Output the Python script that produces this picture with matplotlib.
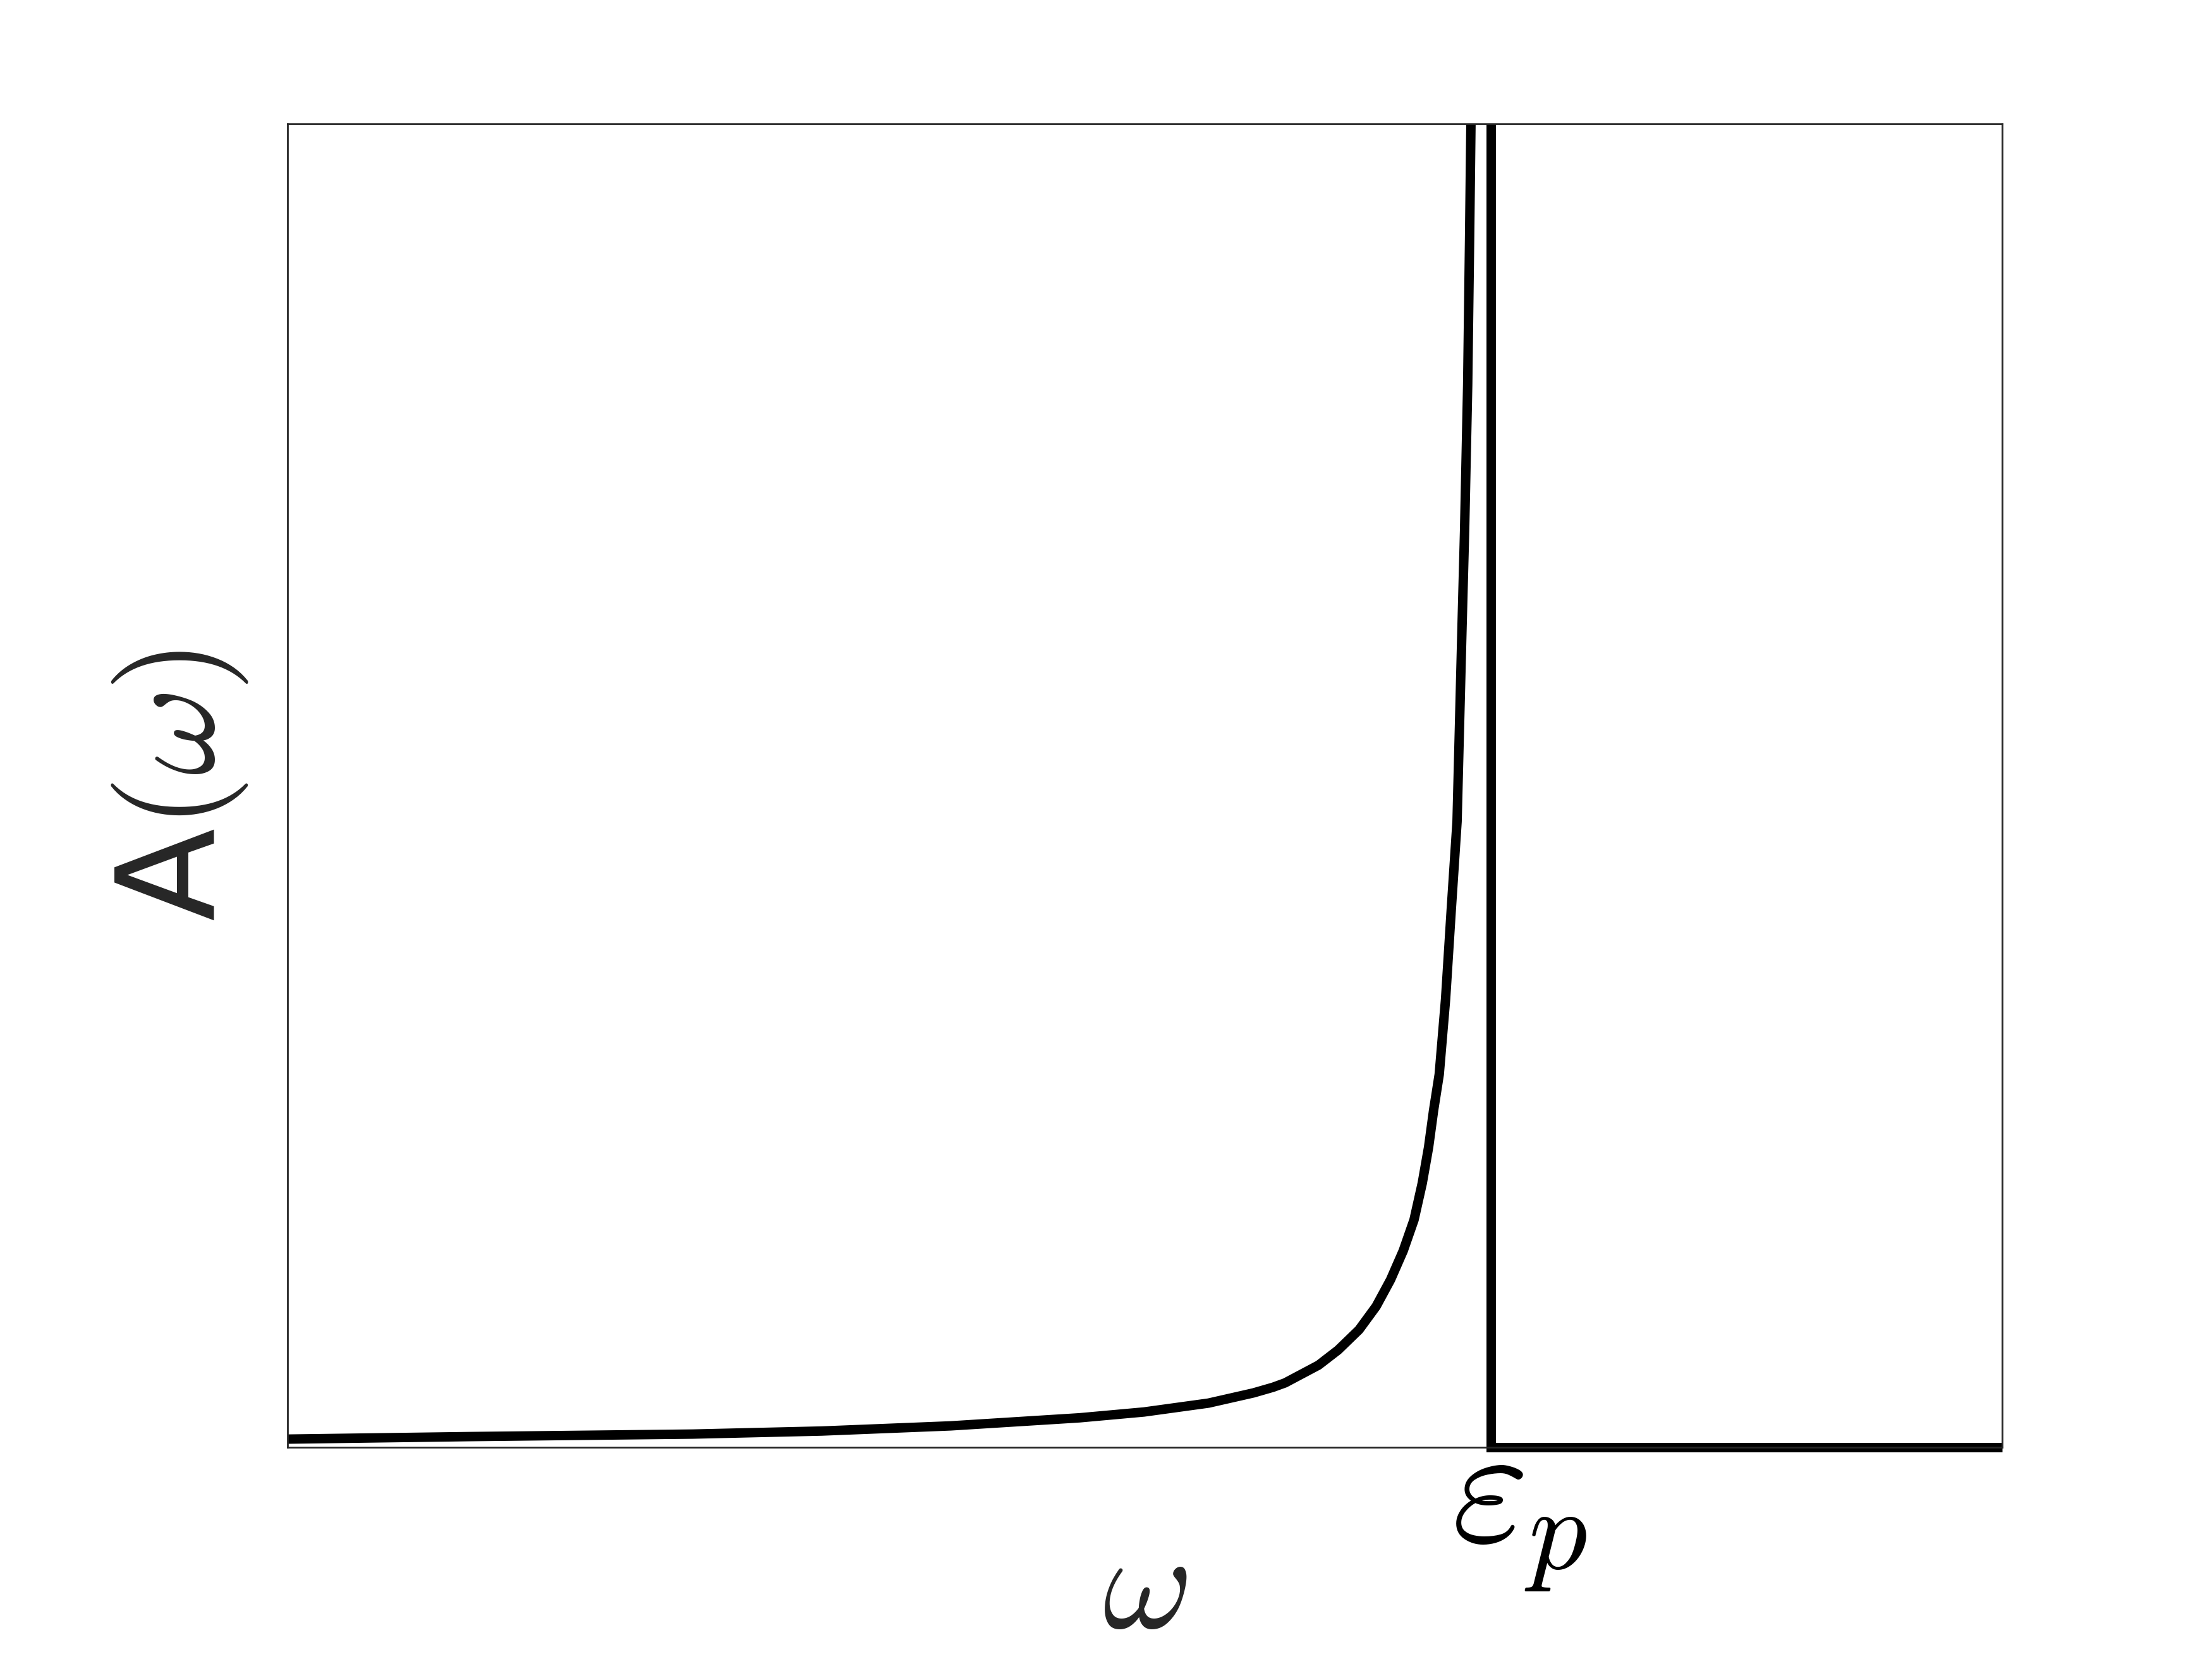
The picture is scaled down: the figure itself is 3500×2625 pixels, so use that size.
import numpy as np
import matplotlib
matplotlib.use("Agg")
import matplotlib.pyplot as plt
import matplotlib.transforms as mtransforms

plt.rcParams["mathtext.fontset"] = "cm"
plt.rcParams["font.family"] = ["DejaVu Sans"]

# === data (x: omega, axes 0..1; y: A, axes 0..1) ===
ep = 0.702
omega = [0.0, 0.1058, 0.2364, 0.3116, 0.3868, 0.4620, 0.4996, 0.5372, 0.5634,
         0.5749, 0.5819, 0.6014, 0.6128, 0.6250, 0.6350, 0.6434, 0.6508,
         0.6571, 0.6619, 0.6656, 0.6685, 0.6718, 0.6755, 0.6788, 0.6822,
         0.6833, 0.6851, 0.6866, 0.6884, 0.6895, 0.6903, 0.6906]
A = [0.0062, 0.0081, 0.0100, 0.0123, 0.0162, 0.0223, 0.0267, 0.0334, 0.0411,
     0.0454, 0.0487, 0.0621, 0.0735, 0.0888, 0.1065, 0.1266, 0.1485,
     0.1719, 0.1996, 0.2268, 0.2545, 0.2818, 0.3386, 0.4059, 0.4728,
     0.5287, 0.6199, 0.6929, 0.8028, 0.9121, 1.0, 1.05]

# step: vertical at ep, then zero
step_x = [ep, ep, 1.0]
step_y = [1.0, 0.0, 0.0]

gray = "#262626"

fig = plt.figure(figsize=(14, 10.5), dpi=250)
ax = fig.add_axes([0.13, 0.1276, 0.775, 0.7977])

ax.plot(omega, A, color="k", lw=4.3, solid_joinstyle="round")
ax.plot(step_x, step_y, color="k", lw=4.3, clip_on=False,
        solid_joinstyle="miter", solid_capstyle="butt")

ax.set_xlim(0, 1)
ax.set_ylim(0, 1)
ax.set_yticks([])
ax.set_xticks([ep])
ax.set_xticklabels([r"$\varepsilon_p$"], fontsize=76, color="k")
ax.tick_params(axis="x", length=0, pad=-7)
shift = mtransforms.ScaledTranslation(0.18, 0, fig.dpi_scale_trans)
for lab in ax.get_xticklabels():
    lab.set_transform(lab.get_transform() + shift)

for s in ax.spines.values():
    s.set_linewidth(0.8)
    s.set_color(gray)

ax.set_xlabel(r"$\omega$", fontsize=63, color=gray)
ax.xaxis.set_label_coords(0.5, -0.057)
ax.set_ylabel(r"A$(\omega)$", fontsize=62, color=gray)
ax.yaxis.set_label_coords(-0.022, 0.5)

fig.savefig("out.png", dpi=250)
